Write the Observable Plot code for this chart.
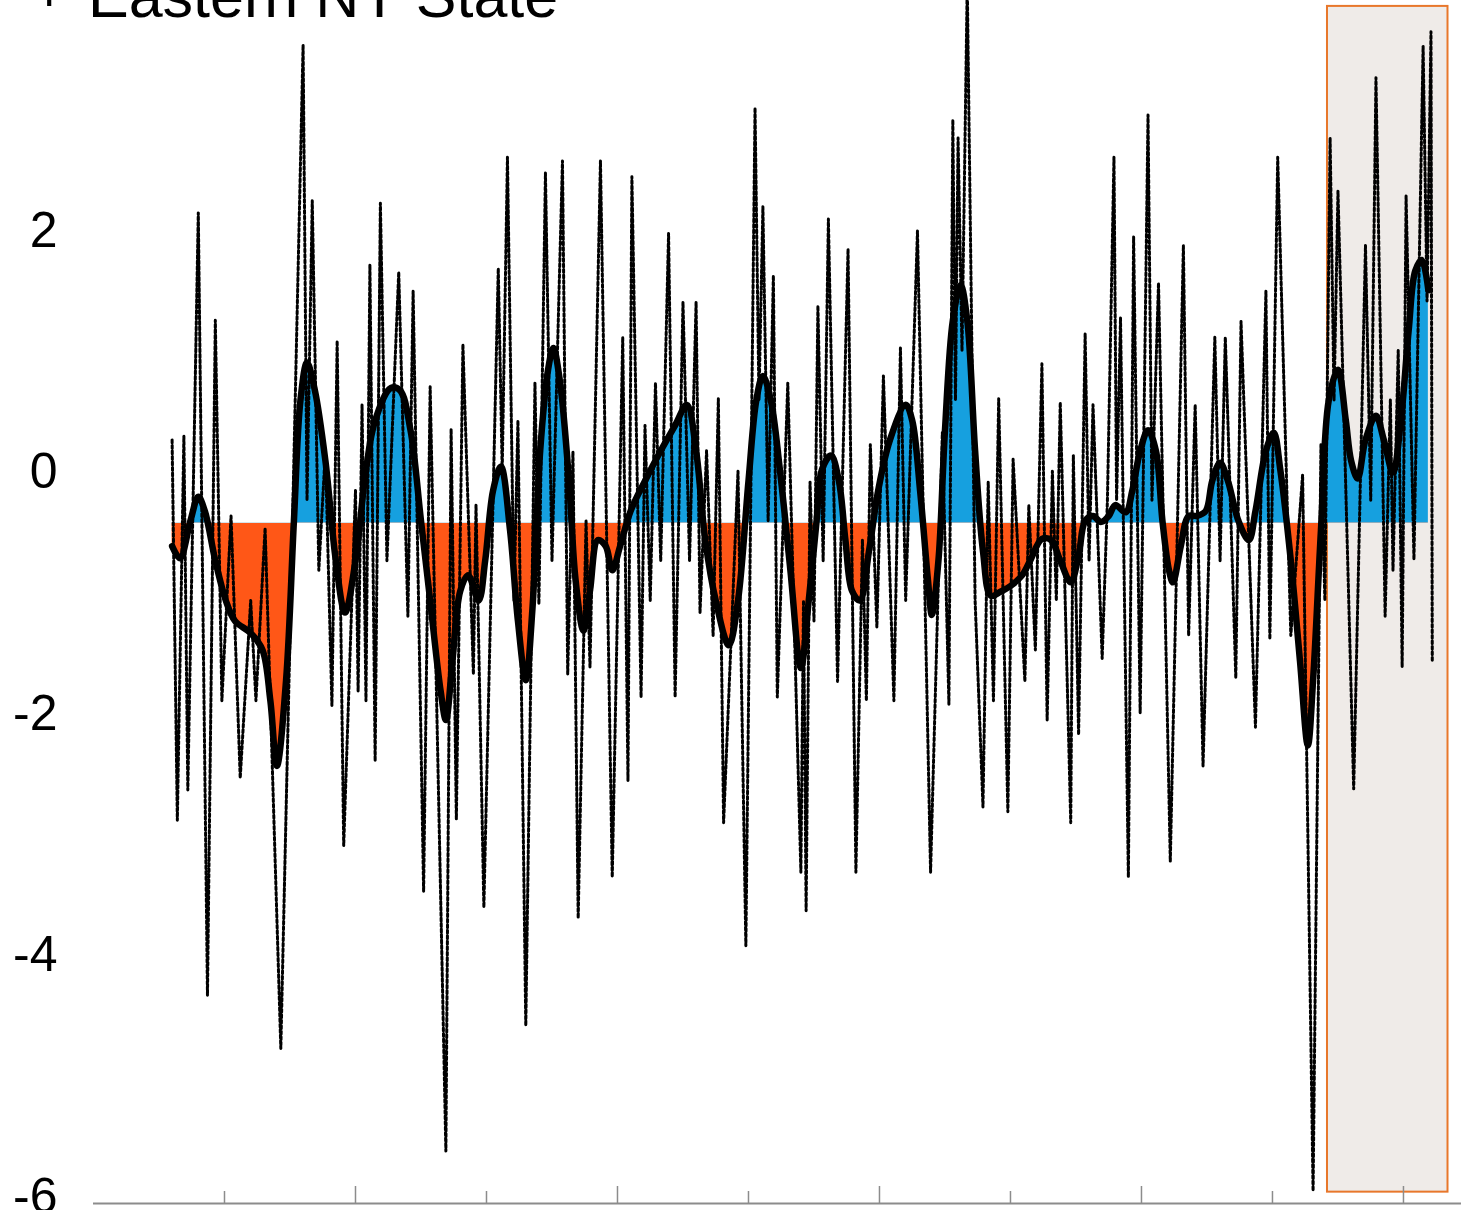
<!DOCTYPE html>
<html>
<head>
<meta charset="utf-8">
<script src="https://cdn.jsdelivr.net/npm/d3@7"></script>
<script src="https://cdn.jsdelivr.net/npm/@observablehq/plot@0.6"></script>
<style>
  html, body { margin: 0; padding: 0; background: #ffffff; overflow: hidden; }
  #wrap { position: relative; width: 1461px; height: 1210px; overflow: hidden; }
  #title { position: absolute; left: 88px; top: -34px; font-family: "Liberation Sans", Arial, sans-serif; font-size: 61px; line-height: 60px; color: #000; white-space: nowrap; z-index: 2; }
  #chart { position: absolute; left: 0; top: -60px; }
</style>
</head>
<body>
<div id="wrap">
  <div id="title">Eastern NY State</div>
  <div id="chart"></div>
</div>
<script>
// Monthly index (dashed): successive highs and lows
const rawYears = [1926.0,1926.4,1926.9,1927.2,1928.0,1928.7,1929.3,1929.8,1930.5,1931.2,1932.0,1932.4,1933.1,1934.3,1936.0,1936.3,1936.7,1937.2,1937.7,1938.2,1938.6,1939.1,1940.0,1940.2,1940.5,1940.8,1941.1,1941.5,1941.9,1942.4,1943.3,1944.0,1944.4,1945.2,1945.7,1946.9,1947.3,1947.7,1948.2,1949.0,1949.2,1949.8,1950.9,1951.2,1951.6,1952.1,1952.4,1953.0,1953.7,1954.0,1954.5,1955.0,1955.8,1956.2,1956.6,1957.0,1957.6,1957.9,1958.7,1959.6,1960.4,1960.8,1961.1,1961.8,1962.1,1962.5,1962.9,1963.3,1963.9,1964.4,1965.0,1965.5,1966.0,1966.3,1966.8,1967.3,1967.7,1968.1,1969.2,1969.8,1970.5,1970.8,1971.1,1971.5,1971.9,1972.2,1973.0,1974.0,1974.2,1974.4,1974.7,1975.0,1975.3,1975.7,1976.1,1976.8,1977.6,1978.2,1978.7,1979.0,1979.3,1979.8,1980.3,1981.1,1981.6,1982.0,1982.9,1983.9,1984.8,1985.3,1985.6,1985.8,1986.0,1986.3,1986.7,1987.3,1987.9,1988.3,1988.7,1989.1,1989.8,1990.2,1991.1,1991.4,1991.9,1992.4,1992.8,1993.2,1993.5,1993.8,1994.6,1994.8,1995.2,1995.7,1996.0,1996.3,1997.0,1997.4,1997.9,1998.1,1998.4,1999.0,1999.4,1999.9,2000.5,2000.8,2001.3,2002.2,2003.2,2003.6,2004.1,2004.7,2005.6,2006.0,2006.4,2007.2,2007.6,2008.7,2009.5,2009.8,2010.4,2011.4,2012.3,2013.1,2013.7,2014.0,2014.4,2014.7,2015.0,2016.2,2017.1,2017.5,2017.9,2018.6,2019.0,2019.2,2019.6,2019.9,2020.2,2020.8,2021.5,2021.8,2022.1,2022.2];
const rawValues = [0.27,-2.88,0.30,-2.63,2.15,-4.33,1.26,-1.89,-0.36,-2.53,-1.06,-1.89,-0.46,-4.77,3.54,-0.23,2.25,-0.81,0.18,-1.93,1.09,-3.09,-0.15,-1.81,0.56,-1.89,1.72,-2.39,2.23,-0.73,1.66,-1.19,1.50,-3.47,0.71,-5.62,0.36,-2.87,1.06,-1.67,-0.27,-3.60,1.69,0.02,2.61,-1.06,0.43,-4.58,0.74,-1.09,2.48,-0.73,2.58,-1.67,0.17,-3.69,-0.40,-1.61,2.58,-3.35,1.12,-2.55,2.45,-1.86,0.39,-1.06,0.74,-0.73,1.98,-1.86,1.41,-0.73,1.41,-1.16,0.18,-1.35,0.61,-2.90,0.01,-3.92,3.02,0.60,2.20,-0.40,1.63,-1.86,0.74,-3.31,-1.06,-3.63,-0.08,-1.23,1.38,-0.73,2.10,-1.73,1.85,-3.31,-0.56,-1.89,0.23,-1.28,0.80,-1.89,1.03,-1.06,2.00,-3.31,0.33,-1.92,2.92,0.60,2.77,1.01,4.05,-1.06,-2.77,-0.08,-1.89,0.61,-2.81,0.11,-1.73,-0.27,-1.47,0.90,-2.05,0.01,-1.06,0.58,-2.90,0.14,-2.17,1.15,-0.73,0.56,-1.54,-0.23,2.61,-0.23,1.28,-3.35,1.95,-1.99,2.96,-0.23,1.57,-3.22,1.88,-1.35,0.56,-2.43,1.12,-0.73,1.12,-1.70,1.25,-2.11,1.50,-1.38,2.61,-1.35,-0.02,-5.95,0.23,-1.06,2.77,0.60,2.33,-2.62,1.88,-0.23,3.27,-1.19,0.60,-0.81,1.01,-1.61,2.29,-0.72,3.53,1.42,3.65,-1.57];

// Smoothed index (thick black line)
const smoothYears = [1926.0,1926.6,1927.4,1928.0,1928.5,1929.3,1930.1,1930.8,1932.0,1932.9,1933.5,1934.0,1934.7,1935.3,1935.8,1936.3,1936.9,1937.7,1938.5,1939.2,1940.0,1940.8,1941.5,1942.7,1943.4,1944.2,1945.0,1945.7,1946.5,1946.9,1947.4,1948.0,1948.6,1949.4,1949.9,1950.5,1951.1,1951.8,1952.4,1953.0,1953.5,1954.1,1954.7,1955.1,1955.6,1956.3,1956.8,1957.4,1957.9,1958.5,1959.1,1959.6,1960.2,1961.0,1962.1,1963.3,1964.4,1965.3,1966.0,1966.7,1967.5,1968.5,1969.2,1970.0,1970.6,1971.1,1971.7,1972.4,1973.2,1974.0,1974.6,1975.2,1975.6,1976.3,1976.9,1977.4,1977.9,1978.5,1979.2,1979.9,1980.8,1982.0,1982.5,1983.1,1983.7,1984.0,1984.5,1985.0,1985.6,1986.2,1986.7,1987.3,1987.9,1988.5,1989.2,1990.0,1990.9,1991.5,1992.4,1993.1,1993.8,1994.6,1995.2,1995.7,1996.3,1996.9,1997.5,1998.0,1998.8,1999.3,1999.9,2000.5,2001.1,2001.6,2002.1,2002.4,2003.0,2003.6,2004.2,2004.9,2005.4,2006.0,2006.6,2007.4,2008.2,2008.7,2009.5,2010.1,2010.6,2011.4,2012.1,2012.7,2013.1,2013.7,2014.3,2015.0,2015.6,2016.0,2016.5,2017.1,2017.9,2018.5,2019.2,2019.8,2020.4,2020.9,2021.4,2021.9];
const smoothValues = [-0.61,-0.71,-0.40,-0.20,-0.32,-0.73,-1.06,-1.23,-1.33,-1.47,-1.89,-2.43,-1.72,-0.40,0.60,0.91,0.68,0.10,-0.73,-1.16,-0.73,0.02,0.43,0.70,0.68,0.35,-0.40,-1.06,-1.81,-2.05,-1.56,-0.98,-0.85,-1.06,-0.73,-0.15,0.05,-0.48,-1.23,-1.72,-1.14,0.18,0.85,1.03,0.76,-0.07,-0.89,-1.31,-0.98,-0.56,-0.61,-0.81,-0.61,-0.32,-0.07,0.18,0.39,0.56,0.18,-0.56,-1.06,-1.43,-1.06,-0.07,0.60,0.80,0.60,0.02,-0.81,-1.62,-1.06,-0.40,0.02,0.14,-0.07,-0.56,-0.98,-1.06,-0.65,-0.15,0.27,0.56,0.43,-0.15,-0.89,-1.18,-0.73,0.35,1.26,1.55,1.26,0.18,-0.65,-1.02,-0.99,-0.94,-0.85,-0.73,-0.55,-0.56,-0.73,-0.91,-0.69,-0.40,-0.36,-0.41,-0.36,-0.27,-0.33,-0.15,0.18,0.35,0.18,-0.40,-0.81,-0.91,-0.61,-0.36,-0.36,-0.32,-0.07,0.08,-0.07,-0.40,-0.56,-0.32,0.18,0.33,0.02,-0.73,-1.56,-2.26,-1.72,-0.48,0.60,0.85,0.43,0.10,-0.05,0.27,0.47,0.27,0.00,0.43,1.18,1.67,1.76,1.51];

// Long-term mean used as the fill baseline
const baselineValue = -0.42;

// Highlighted recent period
const highlightYears = [2014.2, 2023.4];
const highlightValues = [-5.96, 3.86];

// Axis ticks
const yTicks = [-6, -4, -2, 0, 2, 4];
const majorXTicks = [1940, 1960, 1980, 2000, 2020];
const minorXTicks = [1930, 1950, 1970, 1990, 2010];
const xDomain = [1920, 2024.43];
const yDomain = [-6.054, 4];

const rawData = rawYears.slice(0, Math.min(rawYears.length, rawValues.length)).map((t, i) => ({year: t, value: rawValues[i]}));
const smoothData = smoothYears.slice(0, Math.min(smoothYears.length, smoothValues.length)).map((t, i) => ({year: t, value: smoothValues[i]}));
const highlight = [{start: highlightYears[0], end: highlightYears[1], low: highlightValues[0], high: highlightValues[1]}];

const BLUE = "#16a0df";
const ORANGE = "#ff5717";

const plot = Plot.plot({
  width: 1461,
  height: 1290,
  marginLeft: 93,
  marginRight: 0,
  marginTop: 49,
  marginBottom: 27,
  style: {fontFamily: "'Liberation Sans', Arial, Helvetica, sans-serif", color: "#000", background: "transparent", overflow: "visible"},
  x: {domain: xDomain},
  y: {domain: yDomain},
  marks: [
    Plot.rect(highlight, {x1: "start", x2: "end", y1: "low", y2: "high", fill: "#efebe8", stroke: "#e8772b", strokeWidth: 2}),
    Plot.areaY(smoothData, {x: "year", y1: () => baselineValue, y2: "value", curve: "catmull-rom", fill: BLUE}),
    Plot.areaY(smoothData, {x: "year", y1: () => baselineValue, y2: "value", curve: "catmull-rom", fill: ORANGE}),
    Plot.line(rawData, {x: "year", y: "value", stroke: "#000", strokeWidth: 3, strokeDasharray: "3,2.5", curve: "linear"}),
    Plot.line(smoothData, {x: "year", y: "value", stroke: "#000", strokeWidth: 6.5, curve: "catmull-rom", strokeLinejoin: "round", strokeLinecap: "round"}),
    Plot.ruleY([yDomain[0]], {stroke: "#8c8c8c", strokeWidth: 2}),
    Plot.axisX(majorXTicks, {tickSize: -17, tickFormat: () => "", stroke: "#8c8c8c", strokeWidth: 1.5}),
    Plot.axisX(minorXTicks, {tickSize: -12, tickFormat: () => "", stroke: "#8c8c8c", strokeWidth: 1.5}),
    Plot.axisY(yTicks, {tickSize: 0, tickPadding: 36, fontSize: 50, tickFormat: d => String(d), fill: "#000"})
  ]
});

// Clip the two fills to the parts above / below the baseline
(function () {
  const ns = "http://www.w3.org/2000/svg";
  const by = plot.scale("y").apply(baselineValue);
  let defs = plot.querySelector("defs");
  if (!defs) { defs = document.createElementNS(ns, "defs"); plot.insertBefore(defs, plot.firstChild); }
  function addClip(id, y, h) {
    const cp = document.createElementNS(ns, "clipPath");
    cp.setAttribute("id", id);
    const r = document.createElementNS(ns, "rect");
    r.setAttribute("x", 0); r.setAttribute("y", y);
    r.setAttribute("width", 1461); r.setAttribute("height", h);
    cp.appendChild(r); defs.appendChild(cp);
  }
  addClip("clip-above", -100, by + 100);
  addClip("clip-below", by, 2000);
  const areas = plot.querySelectorAll('g[aria-label="area"]');
  if (areas[0]) areas[0].setAttribute("clip-path", "url(#clip-above)");
  if (areas[1]) areas[1].setAttribute("clip-path", "url(#clip-below)");
})();

document.getElementById("chart").appendChild(plot);
</script>
</body>
</html>
